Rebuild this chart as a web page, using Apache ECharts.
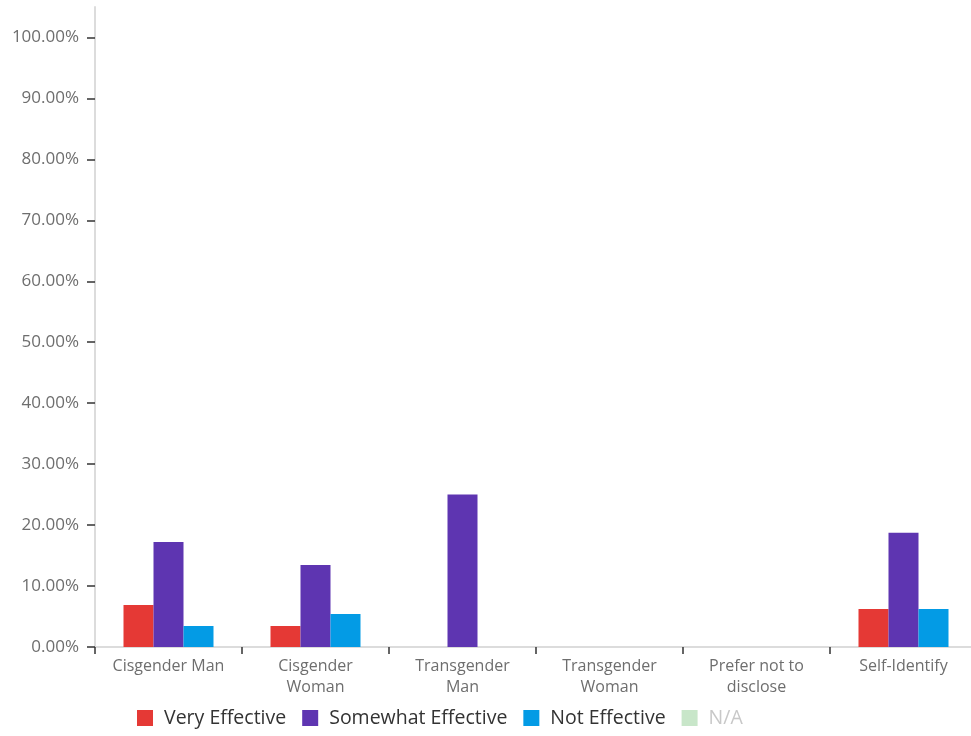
<!DOCTYPE html>
<html>
<head>
<meta charset="utf-8">
<script src="https://cdn.jsdelivr.net/npm/echarts@6/dist/echarts.min.js"></script>
<style>
html,body{margin:0;padding:0;background:#fff;overflow:hidden;}
#chart{width:985px;height:736px;}
</style>
</head>
<body>
<div id="chart"></div>
<script>
var categories = ['Cisgender Man', 'Cisgender\nWoman', 'Transgender\nMan', 'Transgender\nWoman', 'Prefer not to\ndisclose', 'Self-Identify'];
var veryEffective = [6.9, 3.45, 0, 0, 0, 6.25];
var somewhatEffective = [17.24, 13.45, 25, 0, 0, 18.75];
var notEffective = [3.45, 5.4, 0, 0, 0, 6.25];
var naValues = [];
var yTicks = [0, 10, 20, 30, 40, 50, 60, 70, 80, 90, 100];

var chart = echarts.init(document.getElementById('chart'));
var fontFam = 'Open Sans';
chart.setOption({
  animation: false,
  backgroundColor: '#fff',
  grid: { left: 95, top: 7, bottom: 89, right: 8, containLabel: false },
  legend: {
    bottom: 8,
    left: 137,
    padding: 0,
    icon: 'rect',
    itemWidth: 16,
    itemHeight: 16,
    itemGap: 16,
    textStyle: { color: '#333', fontSize: 19.5, fontFamily: fontFam, padding: [0, 0, 0, 6] },
    data: [
      { name: 'Very Effective' },
      { name: 'Somewhat Effective' },
      { name: 'Not Effective' },
      { name: 'N/A', textStyle: { color: '#c8c8c8' } }
    ]
  },
  xAxis: {
    type: 'category',
    data: categories,
    axisLine: { lineStyle: { color: '#dcdcdc', width: 2 } },
    axisTick: { show: true, length: 7, lineStyle: { color: '#333', width: 1.5 } },
    axisLabel: { interval: 0, color: '#6e6e6e', fontSize: 16, lineHeight: 21, fontFamily: fontFam, margin: 9 }
  },
  yAxis: {
    type: 'value',
    min: 0,
    max: 105,
    interval: 10,
    splitLine: { show: false },
    axisLine: { show: true, lineStyle: { color: '#dcdcdc', width: 2 } },
    axisTick: { show: true, length: 8, customValues: yTicks, lineStyle: { color: '#333', width: 1.5 } },
    axisLabel: {
      customValues: yTicks,
      color: '#6e6e6e', fontSize: 17, fontFamily: fontFam, margin: 16,
      formatter: function (v) { return v.toFixed(2) + '%'; }
    }
  },
  series: [
    { name: 'Very Effective', type: 'bar', data: veryEffective, barWidth: 30, barGap: '0%', itemStyle: { color: '#e53935' } },
    { name: 'Somewhat Effective', type: 'bar', data: somewhatEffective, barWidth: 30, barGap: '0%', itemStyle: { color: '#5e35b1' } },
    { name: 'Not Effective', type: 'bar', data: notEffective, barWidth: 30, barGap: '0%', itemStyle: { color: '#039be5' } },
    { name: 'N/A', type: 'line', data: naValues, itemStyle: { color: '#c8e6c9' }, lineStyle: { color: '#c8e6c9' } }
  ]
});
</script>
</body>
</html>
